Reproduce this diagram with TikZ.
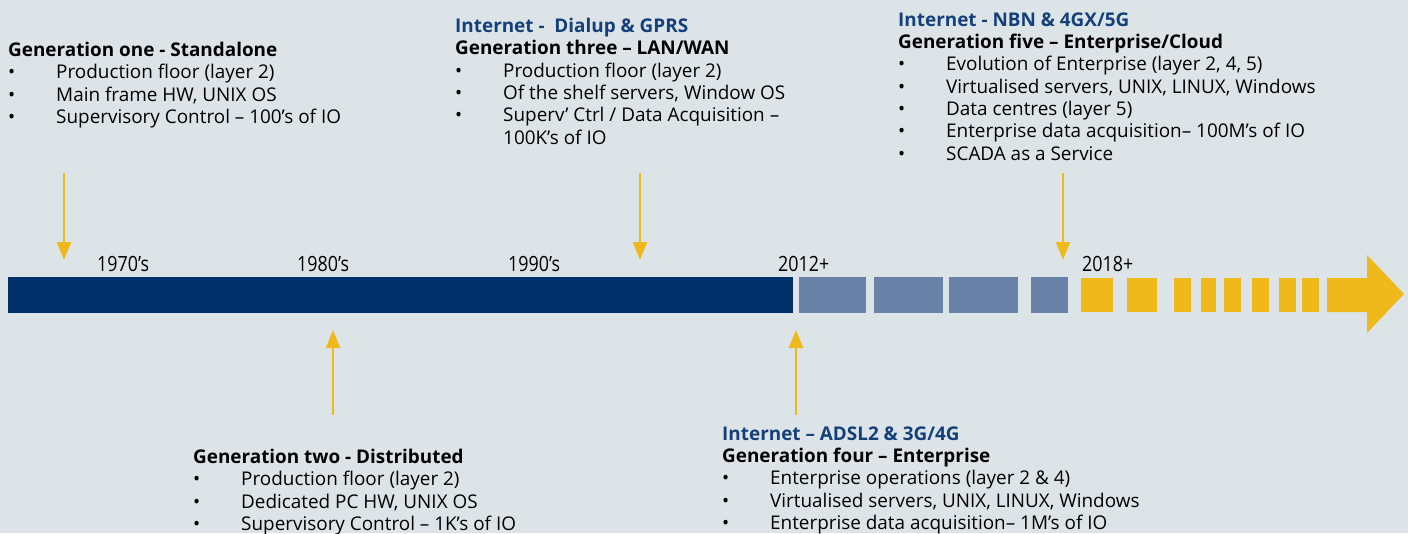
\documentclass[tikz,border=0pt]{standalone}
\usepackage{fontspec}
\setmainfont{Open Sans}
\newfontfamily\yearfont[FakeStretch=0.85]{Open Sans}
\usetikzlibrary{arrows.meta}

\definecolor{bgcol}{HTML}{DDE4E8}
\definecolor{navy}{HTML}{003069}
\definecolor{steel}{HTML}{6882A8}
\definecolor{gold}{HTML}{F0B91B}
\definecolor{netblue}{HTML}{14407A}

\newcommand{\itm}[1]{\makebox[48pt][l]{\textbullet}#1}
\newcommand{\net}[1]{\textcolor{netblue}{\textbf{#1}}}

\begin{document}
\begin{tikzpicture}[x=1pt,y=-1pt,
    gentext/.style={anchor=north west,inner sep=0pt,align=left,
      font=\fontsize{18.9}{22.3}\selectfont},
    year/.style={anchor=base west,inner sep=0pt,font=\yearfont\fontsize{21}{24}\selectfont},
    goldarrow/.style={draw=gold,line width=2pt,-{Triangle[width=14pt,length=18pt]}}]
      \fill[bgcol] (0,0) rectangle (1408,533);
      \useasboundingbox (0,0) rectangle (1408,533);
      %% Time bar
      \fill[navy] (8,277) rectangle (793,313);
      \foreach \a/\b in {799/866,874/943,949/1018,1031/1068}
        \fill[steel] (\a,277) rectangle (\b,313);
      \foreach \a/\b in {1081/1113,1127/1157,1174/1191,1201/1216,1224/1241,1252/1269,1279/1296,1302/1319}
        \fill[gold] (\a,278) rectangle (\b,312);
      \fill[gold] (1327,278) -- (1367,278) -- (1367,255) -- (1404,294)
        -- (1367,333) -- (1367,312) -- (1327,312) -- cycle;
      %% Years
      \node[year] (y70) at (97,271) {1970’s};
      \node[year] (y80) at (297,271) {1980’s};
      \node[year] (y90) at (508,271) {1990’s};
      \node[year] (y12) at (778,271) {2012+};
      \node[year] (y18) at (1082,271) {2018+};
      %% Generations above the bar
      \node[gentext] (gen1) at (8,42) {\textbf{Generation one - Standalone}\\
        \itm{Production floor (layer 2)}\\
        \itm{Main frame HW, UNIX OS}\\
        \itm{Supervisory Control – 100’s of IO}};
      \node[gentext] (gen3) at (455,18) {\net{Internet -\ \ Dialup \& GPRS}\\
        \textbf{Generation three – LAN/WAN}\\
        \itm{Production floor (layer 2)}\\
        \itm{Of the shelf servers, Window OS}\\
        \itm{Superv’ Ctrl / Data Acquisition –}\\
        \hspace*{48pt}100K’s of IO};
      \node[gentext] (gen5) at (898,12.5) {\net{Internet - NBN \& 4GX/5G}\\
        \textbf{Generation five – Enterprise/Cloud}\\
        \itm{Evolution of Enterprise (layer 2, 4, 5)}\\
        \itm{Virtualised servers, UNIX, LINUX, Windows}\\
        \itm{Data centres (layer 5)}\\
        \itm{Enterprise data acquisition– 100M’s of IO}\\
        \itm{SCADA as a Service}};
      %% Generations below the bar
      \node[gentext] (gen2) at (193,449) {\textbf{Generation two - Distributed}\\
        \itm{Production floor (layer 2)}\\
        \itm{Dedicated PC HW, UNIX OS}\\
        \itm{Supervisory Control – 1K’s of IO}};
      \node[gentext] (gen4) at (722,426.5) {\net{Internet – ADSL2 \& 3G/4G}\\
        \textbf{Generation four – Enterprise}\\
        \itm{Enterprise operations (layer 2 \& 4)}\\
        \itm{Virtualised servers, UNIX, LINUX, Windows}\\
        \itm{Enterprise data acquisition– 1M’s of IO}};
      %% Pointers
      \coordinate (p1a) at (64,173);   \coordinate (p1b) at (64,260);
      \coordinate (p3a) at (640,173);  \coordinate (p3b) at (640,260);
      \coordinate (p5a) at (1063,173); \coordinate (p5b) at (1063,260);
      \coordinate (p2a) at (333,415);  \coordinate (p2b) at (333,330);
      \coordinate (p4a) at (796,415);  \coordinate (p4b) at (796,330);
      \draw[goldarrow] (p1a) -- (p1b);
      \draw[goldarrow] (p3a) -- (p3b);
      \draw[goldarrow] (p5a) -- (p5b);
      \draw[goldarrow] (p2a) -- (p2b);
      \draw[goldarrow] (p4a) -- (p4b);
\end{tikzpicture}
\end{document}
